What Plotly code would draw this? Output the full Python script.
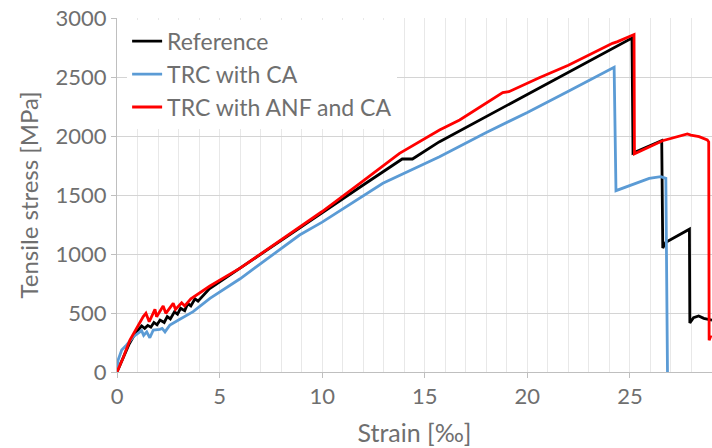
import plotly.graph_objects as go

# Reference specimen
ref_strain = [0, 0.3, 0.6, 0.9, 1.05, 1.2, 1.35, 1.5, 1.65, 1.8, 1.95, 2.1, 2.3, 2.45,
              2.6, 2.8, 2.95, 3.1, 3.3, 3.45, 3.6, 3.8, 3.95, 4.5, 6, 8, 10, 12, 13.9,
              14.4, 15.7, 18, 20, 22, 24, 25.1, 25.15, 26.55, 26.6, 26.75, 27.9, 27.92,
              28.1, 28.35, 28.6, 29.0]
ref_stress = [0, 120, 240, 330, 360, 390, 370, 395, 380, 420, 400, 440, 420, 470,
              450, 510, 490, 540, 520, 580, 560, 620, 600, 705, 880, 1115, 1355, 1585, 1805,
              1805, 1950, 2165, 2355, 2545, 2730, 2830, 1855, 1960, 1050, 1100, 1210, 415,
              460, 475, 455, 440]

# TRC with CA
ca_strain = [0, 0.05, 0.23, 0.47, 0.8, 1.04, 1.2, 1.3, 1.45, 1.6, 1.77, 2.09, 2.2, 2.34,
             2.58, 3.0, 3.71, 4.53, 6, 8.9, 10, 12.96, 15.72, 18, 20, 22, 24.23, 24.32,
             25.94, 26.5, 26.75, 26.83]
ca_stress = [0, 100, 186, 229, 299, 330, 350, 310, 340, 290, 356, 362, 370, 340,
             398, 440, 511, 624, 790, 1161, 1270, 1599, 1825, 2030, 2200, 2380, 2582, 1537,
             1641, 1655, 1641, 0]

# TRC with ANF and CA
anf_strain = [0, 0.3, 0.63, 1.0, 1.28, 1.41, 1.57, 1.85, 1.93, 2.25, 2.38, 2.74, 2.85,
              3.15, 3.3, 3.6, 4.53, 6, 8.9, 10, 12, 13.77, 15.72, 16.7, 18.8, 19.1, 20.58,
              22, 24.15, 24.4, 25.2, 25.22, 26.59, 27.8, 27.97, 28.37, 28.77, 28.84, 28.86,
              28.95]
anf_stress = [0, 120, 271, 390, 469, 497, 426, 531, 469, 559, 497, 582, 531,
              587, 560, 620, 729, 880, 1232, 1360, 1620, 1853, 2051, 2136, 2367, 2375, 2494,
              2600, 2785, 2800, 2860, 1850, 1960, 2017, 2008, 1994, 1966, 1950, 270,
              310]

series = [
    ("Reference", ref_strain, ref_stress, "#000000"),
    ("TRC with CA", ca_strain, ca_stress, "#5B9BD5"),
    ("TRC with ANF and CA", anf_strain, anf_stress, "#FF0000"),
]

fig = go.Figure()
for name, xs, ys, color in series:
    fig.add_trace(go.Scatter(x=xs, y=ys, name=name, mode="lines",
                             line=dict(color=color, width=2.8)))

text_color = "#6f6f6f"
fig.update_layout(
    width=712,
    height=448,
    margin=dict(l=117, r=0, t=18, b=76),
    paper_bgcolor="white",
    plot_bgcolor="white",
    font=dict(family="Lato, 'Open Sans', sans-serif", size=22, color=text_color),
    showlegend=True,
    legend=dict(x=0.017, y=0.995, xanchor="left", yanchor="top", bgcolor="white",
                font=dict(size=23, color=text_color), itemwidth=30, tracegroupgap=0),
    xaxis=dict(
        range=[0, 29.0], dtick=5, tick0=0, automargin=False,
        showgrid=True, gridcolor="#e8e8e8", gridwidth=1,
        minor=dict(dtick=1, showgrid=True, gridcolor="#e8e8e8"),
        ticks="outside", ticklen=5, tickcolor="#bfbfbf",
        showline=True, linecolor="#bfbfbf", linewidth=1,
        zeroline=False,
        title=dict(text="Strain [‰]", font=dict(size=25, color=text_color), standoff=16),
    ),
    yaxis=dict(
        range=[0, 3000], dtick=500, automargin=False,
        showgrid=True, gridcolor="#d4d4d4", gridwidth=1,
        ticks="outside", ticklen=5, tickcolor="#bfbfbf",
        showline=True, linecolor="#bfbfbf", linewidth=1,
        zeroline=False,
        title=dict(text="Tensile stress [MPa]", font=dict(size=24, color=text_color), standoff=10),
    ),
)

# the page's default body margin would shift the figure by 8px
fig.write_html("out.html", config={"displayModeBar": False},
               post_script="document.body.style.margin = '0';")
